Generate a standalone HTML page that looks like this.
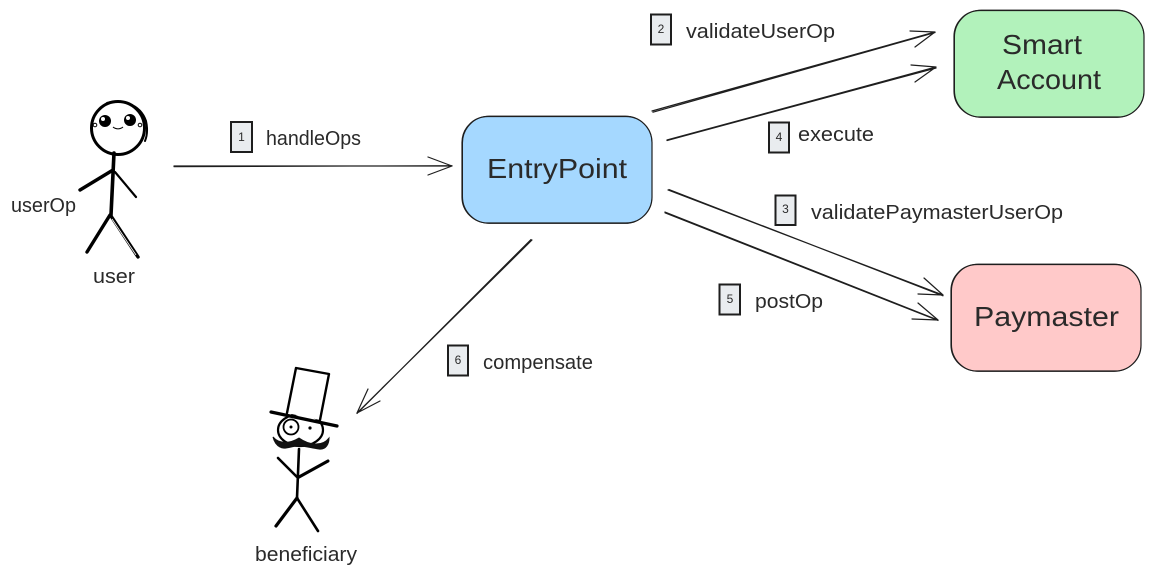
<!DOCTYPE html>
<html lang="en">
<head>
<meta charset="utf-8">
<title>EntryPoint flow</title>
<style>
html,body{margin:0;padding:0;background:#fff;width:1154px;height:577px;overflow:hidden}
svg{display:block}
text{font-family:"Liberation Sans",sans-serif;fill:#2a2a2a}
.box{stroke:#1e1e1e;stroke-width:1.2}
.box2{fill:none;stroke:#1e1e1e;stroke-width:.8}
.arrow{fill:none;stroke:#1e1e1e;stroke-width:1.2;stroke-linecap:round;stroke-linejoin:round}
.num{fill:#e9ecef;stroke:#1e1e1e;stroke-width:2}
.fig{fill:none;stroke:#000;stroke-width:3.2;stroke-linecap:round;stroke-linejoin:round}
</style>
</head>
<body>
<svg width="1154" height="577" viewBox="0 0 1154 577" xmlns="http://www.w3.org/2000/svg">
<rect width="1154" height="577" fill="#fff"/>

<!-- Nodes -->
<rect class="box" x="462" y="116.500" width="190" height="106.500" rx="26" fill="#a5d8ff"/>
<rect class="box2" x="462.600" y="116" width="189.400" height="107.500" rx="27"/>
<rect class="box" x="954" y="10.500" width="190" height="106.500" rx="26" fill="#b2f2bb"/>
<rect class="box2" x="954.600" y="10" width="189.400" height="107.500" rx="27"/>
<rect class="box" x="951" y="264.500" width="190" height="106.500" rx="26" fill="#ffc9c9"/>
<rect class="box2" x="951.600" y="264" width="189.400" height="107.500" rx="27"/>

<!-- Arrows -->
<g class="arrow">
<path d="M174 166L452 166M174 166.600L452 165.700M428 157L452 166L428 175"/>
<path d="M652 111L935 32M653 112.200L935 32.500M910 31L935 32L915 47"/>
<path d="M667 140L936 67M667 140.500L936 68M911 65L936 67L915 82"/>
<path d="M668 190L943 295M669 189.500L943 295.800M924 278L943 295L918 294"/>
<path d="M665 212L938 320M665 212.800L938 320.500M918 303L938 320L912 319"/>
<path d="M532 240L357 413M531 239.500L357 413.500M368 389L357 413L380 401"/>
</g>

<!-- Number tags -->
<g>
<rect class="num" x="231" y="122" width="21" height="30"/>
<rect class="num" x="651" y="14.500" width="20" height="30"/>
<rect class="num" x="769" y="122.500" width="20" height="30"/>
<rect class="num" x="775.500" y="195.500" width="20" height="29.500"/>
<rect class="num" x="719.500" y="284.500" width="20.500" height="30"/>
<rect class="num" x="448" y="345.500" width="20" height="30"/>
</g>
<g font-size="12" text-anchor="middle">
<text x="241.500" y="141">1</text>
<text x="661" y="33">2</text>
<text x="779" y="141">4</text>
<text x="785.500" y="213">3</text>
<text x="730" y="303">5</text>
<text x="458" y="364">6</text>
</g>

<!-- Labels -->
<g font-size="20">
<text x="266" y="145" textLength="95" lengthAdjust="spacingAndGlyphs">handleOps</text>
<text x="686" y="38" textLength="149" lengthAdjust="spacingAndGlyphs">validateUserOp</text>
<text x="798" y="141" textLength="76" lengthAdjust="spacingAndGlyphs">execute</text>
<text x="811" y="219" textLength="252" lengthAdjust="spacingAndGlyphs">validatePaymasterUserOp</text>
<text x="755" y="308" textLength="68" lengthAdjust="spacingAndGlyphs">postOp</text>
<text x="483" y="369" textLength="110" lengthAdjust="spacingAndGlyphs">compensate</text>
<text x="11" y="212" textLength="65" lengthAdjust="spacingAndGlyphs">userOp</text>
<text x="93" y="283" textLength="42" lengthAdjust="spacingAndGlyphs">user</text>
<text x="255" y="561" textLength="102" lengthAdjust="spacingAndGlyphs">beneficiary</text>
</g>
<g font-size="28">
<text x="1002" y="54" textLength="80" lengthAdjust="spacingAndGlyphs">Smart</text>
<text x="997" y="89" textLength="104" lengthAdjust="spacingAndGlyphs">Account</text>
<text x="487" y="178" textLength="140" lengthAdjust="spacingAndGlyphs">EntryPoint</text>
<text x="974" y="326" textLength="145" lengthAdjust="spacingAndGlyphs">Paymaster</text>
</g>

<!-- User figure -->
<g class="fig">
<circle cx="118" cy="128" r="26.500" stroke-width="3"/>
<path d="M107 103C120 99 140 103 146 121C148 130 147 136 145 141" stroke-width="2"/>
<path d="M114 153L111 215" stroke-width="3.600"/>
<path d="M113 170L80 190" stroke-width="3.400"/>
<path d="M115 172L136 197" stroke-width="2.200"/>
<path d="M110 215L87 252" stroke-width="3.400"/>
<path d="M111 216L138 257" stroke-width="3.400"/>
</g>
<path d="M112 219L136 255" stroke="#fff" stroke-width=".8" fill="none"/>
<circle cx="105" cy="121" r="6" fill="#000"/>
<circle cx="130" cy="120" r="6" fill="#000"/>
<circle cx="103" cy="119" r="2" fill="#fff"/>
<circle cx="128" cy="118" r="2" fill="#fff"/>
<circle cx="95" cy="125" r="1.800" fill="#fff" stroke="#000"/>
<circle cx="140" cy="125" r="1.800" fill="#fff" stroke="#000"/>
<path d="M113 127C116 129.500 120 129.500 123 127" fill="none" stroke="#000" stroke-width="1.100"/>

<!-- Beneficiary figure -->
<g class="fig">
<ellipse cx="300.500" cy="430" rx="22.500" ry="16" stroke-width="2.200"/>
<path d="M287 413L296 368L329 374L320 420" fill="#fff" stroke-width="2.400"/>
<path d="M271 412L337 426" stroke-width="3.200"/>
<circle cx="291" cy="427" r="7.500" fill="#fff" stroke-width="1.800"/>
<path d="M299 449L297 498" stroke-width="2.600"/>
<path d="M278 458L297 477" stroke-width="2.600"/>
<path d="M328 461L299 477" stroke-width="3"/>
<path d="M297 498L276 526" stroke-width="3.200"/>
<path d="M297 498L318 531" stroke-width="2.600"/>
</g>
<circle cx="291" cy="427" r="1.500" fill="#000"/>
<circle cx="310" cy="428" r="1.600" fill="#000"/>
<path d="M273 437C279 444 289 444 299 438C309 445 322 447 329 438C329 444 326 450 319 449C311 448 306 446 299 446C291 446 284 450 280 447C276 445 274 441 273 437Z" fill="#111" stroke="#111" stroke-width="1"/>
</svg>
</body>
</html>
